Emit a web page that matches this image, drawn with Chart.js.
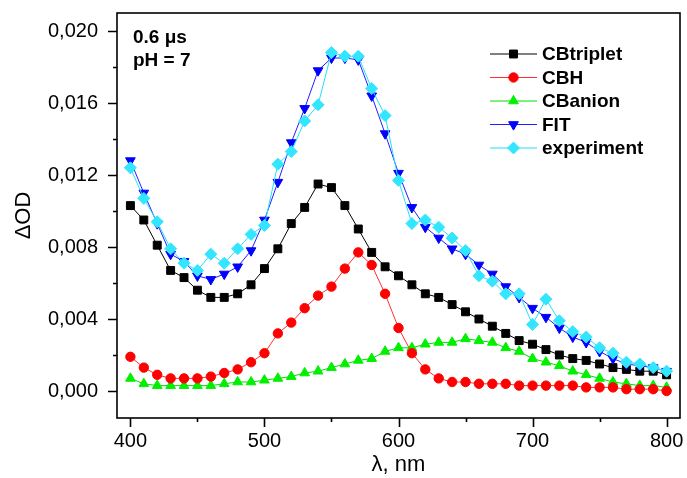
<!DOCTYPE html>
<html>
<head>
<meta charset="utf-8">
<script src="https://cdn.jsdelivr.net/npm/chart.js@4.4.1/dist/chart.umd.min.js"></script>
<style>
  html, body { margin: 0; padding: 0; background: #fff; }
</style>
</head>
<body>
<canvas id="myChart" width="687" height="478"></canvas>
<script>
// wavelength, nm
var wavelengths = [400, 410, 420, 430, 440, 450, 460, 470, 480, 490,
                   500, 510, 520, 530, 540, 550, 560, 570, 580, 590,
                   600, 610, 620, 630, 640, 650, 660, 670, 680, 690,
                   700, 710, 720, 730, 740, 750, 760, 770, 780, 790, 800];

var cbTriplet = [0.0103, 0.0095, 0.0081, 0.0067, 0.0063, 0.0056, 0.0052, 0.0052, 0.0054, 0.0059,
                 0.0068, 0.0079, 0.0093, 0.0102, 0.0115, 0.0113, 0.0103, 0.0090, 0.0077, 0.0069,
                 0.0064, 0.0059, 0.0054, 0.0052, 0.0048, 0.0044, 0.0040, 0.0036, 0.0032, 0.0028,
                 0.0026, 0.0023, 0.0020, 0.0018, 0.0017, 0.0015, 0.0013, 0.0012, 0.0011, 0.0011, 0.0009];

var cbh = [0.0019, 0.0013, 0.0009, 0.0007, 0.0007, 0.0007, 0.0008, 0.0010, 0.0012, 0.0016,
           0.0021, 0.0032, 0.0038, 0.0046, 0.0053, 0.0058, 0.0068, 0.0077, 0.0070, 0.0054,
           0.0035, 0.0021, 0.0012, 0.0007, 0.0005, 0.0005, 0.0004, 0.0004, 0.0004, 0.0003,
           0.0003, 0.0003, 0.0003, 0.0003, 0.0002, 0.0002, 0.0002, 0.0001, 0.0001, 0.0001, 0.0000];

var cbAnion = [0.0007, 0.0004, 0.0003, 0.0003, 0.0003, 0.0003, 0.0003, 0.0004, 0.0005, 0.0005,
               0.0006, 0.0007, 0.0008, 0.0010, 0.0011, 0.0013, 0.0015, 0.0017, 0.0018, 0.0022,
               0.0024, 0.0024, 0.0026, 0.0027, 0.0027, 0.0029, 0.0028, 0.0027, 0.0024, 0.0022,
               0.0018, 0.0016, 0.0014, 0.0011, 0.0009, 0.0007, 0.0005, 0.0004, 0.0003, 0.0003, 0.0002];

var fit = [0.0128, 0.0110, 0.0093, 0.0076, 0.0072, 0.0064, 0.0062, 0.0065, 0.0069, 0.0078,
           0.0095, 0.0116, 0.0138, 0.0157, 0.0178, 0.0185, 0.0185, 0.0184, 0.0164, 0.0143,
           0.0121, 0.0102, 0.0091, 0.0085, 0.0079, 0.0076, 0.0070, 0.0065, 0.0058, 0.0052,
           0.0046, 0.0041, 0.0035, 0.0030, 0.0027, 0.0022, 0.0018, 0.0015, 0.0014, 0.0013, 0.0011];

var experiment = [0.0124, 0.0107, 0.0094, 0.0079, 0.0071, 0.0067, 0.0076, 0.0071, 0.0079, 0.0087,
                  0.0092, 0.0126, 0.0133, 0.0150, 0.0159, 0.0188, 0.0186, 0.0186, 0.0168, 0.0153,
                  0.0117, 0.0093, 0.0095, 0.0091, 0.0085, 0.0078, 0.0064, 0.0061, 0.0054, 0.0054,
                  0.0037, 0.0051, 0.0039, 0.0033, 0.0030, 0.0024, 0.0021, 0.0016, 0.0015, 0.0013, 0.0011];

var xTicks = [400, 450, 500, 550, 600, 650, 700, 750, 800];
var xTickLabels = ['400', '', '500', '', '600', '', '700', '', '800'];
var yTicks = [0, 0.002, 0.004, 0.006, 0.008, 0.010, 0.012, 0.014, 0.016, 0.018, 0.020];
var yTickLabels = ['0,000', '', '0,004', '', '0,008', '', '0,012', '', '0,016', '', '0,020'];

var FONT = "'Liberation Sans', Arial, Helvetica, sans-serif";

function pts(ys) {
    var out = [];
    for (var i = 0; i < wavelengths.length; i++) out.push({x: wavelengths[i], y: ys[i]});
    return out;
}

var series = [
    {label: 'CBtriplet', data: cbTriplet, color: '#000000', line: '#000000', style: 'rect', r: 5.6, rot: 0, order: 2},
    {label: 'CBH', data: cbh, color: '#ff0000', line: '#ff3030', style: 'circle', r: 4.7, rot: 0, order: 3},
    {label: 'CBanion', data: cbAnion, color: '#00f000', line: '#00dd00', style: 'triangle', r: 5.6, rot: 0, order: 4},
    {label: 'FIT', data: fit, color: '#0000ff', line: '#2020ff', style: 'triangle', r: 5.6, rot: 180, order: 1},
    {label: 'experiment', data: experiment, color: '#33e6ff', line: '#22e0ff', style: 'rectRot', r: 6, rot: 0, order: 0}
];

var datasets = series.map(function (s) {
    return {
        label: s.label,
        data: pts(s.data),
        borderColor: s.line,
        borderWidth: 1,
        backgroundColor: s.color,
        pointStyle: s.style,
        pointRotation: s.rot,
        pointRadius: s.r,
        pointBackgroundColor: s.color,
        pointBorderColor: s.color,
        pointBorderWidth: 1,
        tension: 0,
        order: s.order
    };
});

function marker(ctx, style, x, y, r, rot) {
    ctx.beginPath();
    if (style === 'circle') {
        ctx.arc(x, y, r, 0, Math.PI * 2);
    } else if (style === 'rect') {
        var s = Math.SQRT1_2 * r;
        ctx.rect(x - s, y - s, 2 * s, 2 * s);
    } else if (style === 'rectRot') {
        ctx.moveTo(x - r, y); ctx.lineTo(x, y - r); ctx.lineTo(x + r, y); ctx.lineTo(x, y + r);
    } else {
        var a = rot * Math.PI / 180;
        for (var k = 0; k < 3; k++) {
            var px = x + Math.sin(a) * r, py = y - Math.cos(a) * r;
            if (k === 0) ctx.moveTo(px, py); else ctx.lineTo(px, py);
            a += 2 * Math.PI / 3;
        }
    }
    ctx.closePath();
    ctx.fill();
    ctx.stroke();
}

var framePlugin = {
    id: 'frame',
    afterDraw: function (chart) {
        var ctx = chart.ctx, a = chart.chartArea;
        var xs = chart.scales.x, ys = chart.scales.y;
        ctx.save();
        ctx.strokeStyle = '#000';
        ctx.lineWidth = 1.6;
        ctx.strokeRect(a.left, a.top, a.right - a.left, a.bottom - a.top);
        ctx.beginPath();
        for (var i = 0; i < yTicks.length; i++) {
            var py = Math.round(ys.getPixelForValue(yTicks[i])) + 0.5;
            var len = yTickLabels[i] ? 9 : 4;
            ctx.moveTo(a.left - len, py); ctx.lineTo(a.left, py);
        }
        for (var j = 0; j < xTicks.length; j++) {
            var px = Math.round(xs.getPixelForValue(xTicks[j])) + 0.5;
            var l2 = xTickLabels[j] ? 9 : 4;
            ctx.moveTo(px, a.bottom); ctx.lineTo(px, a.bottom + l2);
        }
        ctx.stroke();

        // legend
        ctx.font = 'bold 19px ' + FONT;
        ctx.textBaseline = 'middle';
        ctx.textAlign = 'left';
        var rowY = [54, 77.5, 101, 124.5, 148];
        for (var k = 0; k < series.length; k++) {
            var s = series[k], y = rowY[k];
            ctx.strokeStyle = s.line;
            ctx.lineWidth = 1;
            ctx.beginPath(); ctx.moveTo(490, y); ctx.lineTo(537, y); ctx.stroke();
            ctx.fillStyle = s.color; ctx.strokeStyle = s.color;
            marker(ctx, s.style, 513.5, y, s.r, s.rot);
            ctx.fillStyle = '#000';
            ctx.fillText(s.label, 542, y + 1);
        }

        // annotation
        ctx.fillText('0.6 \u03bcs', 133, 38);
        ctx.fillText('pH = 7', 133, 61);
        ctx.restore();
    }
};

var ctx = document.getElementById('myChart').getContext('2d');
var chart = new Chart(ctx, {
    type: 'line',
    data: {datasets: datasets},
    options: {
        responsive: false,
        animation: false,
        layout: {padding: {top: 13, right: 5, left: 0, bottom: 0}},
        plugins: {legend: {display: false}, tooltip: {enabled: false}},
        scales: {
            x: {
                type: 'linear',
                min: 390,
                max: 810,
                afterBuildTicks: function (scale) {
                    scale.ticks = xTicks.map(function (v) { return {value: v}; });
                },
                afterFit: function (scale) {
                    scale.height = 60;
                    scale.paddingLeft = 0;
                    scale.paddingRight = 0;
                },
                grid: {display: false, drawTicks: false},
                border: {display: false},
                ticks: {
                    autoSkip: false,
                    maxRotation: 0,
                    padding: 11,
                    color: '#000',
                    font: {family: FONT, size: 20},
                    callback: function (v, i) { return xTickLabels[i]; }
                },
                title: {
                    display: true,
                    text: '\u03bb, nm',
                    color: '#000',
                    font: {family: FONT, size: 22},
                    padding: {top: 0, bottom: 0}
                }
            },
            y: {
                type: 'linear',
                min: -0.0015,
                max: 0.021,
                afterBuildTicks: function (scale) {
                    scale.ticks = yTicks.map(function (v) { return {value: v}; });
                },
                afterFit: function (scale) {
                    scale.width = 117;
                    scale.paddingTop = 0;
                    scale.paddingBottom = 0;
                },
                grid: {display: false, drawTicks: false},
                border: {display: false},
                ticks: {
                    autoSkip: false,
                    padding: 19,
                    color: '#000',
                    font: {family: FONT, size: 20},
                    callback: function (v, i) { return yTickLabels[i]; }
                },
                title: {
                    display: true,
                    text: '\u0394OD',
                    color: '#000',
                    font: {family: FONT, size: 22},
                    padding: {top: 11, bottom: 0}
                }
            }
        }
    },
    plugins: [framePlugin]
});
</script>
</body>
</html>
